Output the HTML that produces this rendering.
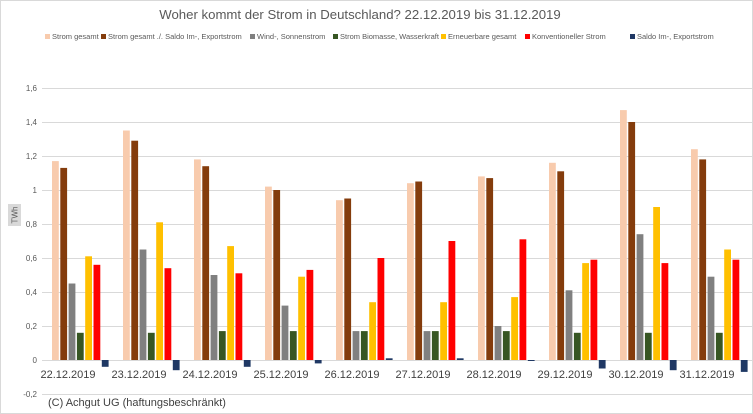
<!DOCTYPE html>
<html><head><meta charset="utf-8"><style>
body{margin:0;background:#fff}
svg{display:block;font-family:"Liberation Sans",sans-serif}
</style></head><body>
<svg id="c" width="753" height="414" viewBox="0 0 753 414">
<rect x="0.5" y="0.5" width="752" height="413" fill="#fff" stroke="#d9d9d9"/>
<text x="360" y="19" font-size="13.2" fill="#595959" text-anchor="middle">Woher kommt der Strom in Deutschland? 22.12.2019 bis 31.12.2019</text>
<g font-size="7.5" fill="#595959">
<rect x="45" y="34" width="5" height="5" fill="#f8cbad"/><text x="52" y="39">Strom gesamt</text>
<rect x="101" y="34" width="5" height="5" fill="#843c0c"/><text x="108" y="39">Strom gesamt ./. Saldo Im-, Exportstrom</text>
<rect x="250" y="34" width="5" height="5" fill="#808080"/><text x="257" y="39">Wind-, Sonnenstrom</text>
<rect x="333" y="34" width="5" height="5" fill="#375623"/><text x="340" y="39">Strom Biomasse, Wasserkraft</text>
<rect x="441" y="34" width="5" height="5" fill="#ffc000"/><text x="448" y="39">Erneuerbare gesamt</text>
<rect x="525" y="34" width="5" height="5" fill="#ff0000"/><text x="532" y="39">Konventioneller Strom</text>
<rect x="630" y="34" width="5" height="5" fill="#1f3864"/><text x="637" y="39">Saldo Im-, Exportstrom</text>
</g>
<g stroke="#d9d9d9" stroke-width="1">
<line x1="42" x2="752" y1="88.5" y2="88.5"/><line x1="42" x2="752" y1="122.5" y2="122.5"/>
<line x1="42" x2="752" y1="156.5" y2="156.5"/><line x1="42" x2="752" y1="190.5" y2="190.5"/>
<line x1="42" x2="752" y1="224.5" y2="224.5"/><line x1="42" x2="752" y1="258.5" y2="258.5"/>
<line x1="42" x2="752" y1="292.5" y2="292.5"/><line x1="42" x2="752" y1="326.5" y2="326.5"/>
<line x1="42" x2="752" y1="360.5" y2="360.5"/><line x1="42" x2="752" y1="394.5" y2="394.5"/>
</g>
<g font-size="8" fill="#595959" text-anchor="end">
<text x="37" y="91">1,6</text><text x="37" y="125">1,4</text><text x="37" y="159">1,2</text>
<text x="37" y="193">1</text><text x="37" y="227">0,8</text><text x="37" y="261">0,6</text>
<text x="37" y="295">0,4</text><text x="37" y="329">0,2</text><text x="37" y="363">0</text>
<text x="37" y="397">-0,2</text>
</g>
<rect x="8" y="204" width="13" height="22" fill="#d9d9d9"/>
<text transform="translate(17.5,215) rotate(-90)" font-size="8" fill="#595959" text-anchor="middle">TWh</text>
<g id="bars"></g>
<g font-size="11" fill="#404040" text-anchor="middle">
<text x="68" y="378">22.12.2019</text><text x="139" y="378">23.12.2019</text>
<text x="210" y="378">24.12.2019</text><text x="281" y="378">25.12.2019</text>
<text x="352" y="378">26.12.2019</text><text x="423" y="378">27.12.2019</text>
<text x="494" y="378">28.12.2019</text><text x="565" y="378">29.12.2019</text>
<text x="636" y="378">30.12.2019</text><text x="707" y="378">31.12.2019</text>
</g>
<text x="48" y="406" font-size="11" fill="#404040">(C) Achgut UG (haftungsbeschränkt)</text>
</svg>
<script>
var d=[[1.17,1.13,0.45,0.16,0.61,0.56,-0.04],[1.35,1.29,0.65,0.16,0.81,0.54,-0.06],[1.18,1.14,0.50,0.17,0.67,0.51,-0.04],[1.02,1.00,0.32,0.17,0.49,0.53,-0.02],[0.94,0.95,0.17,0.17,0.34,0.60,0.01],[1.04,1.05,0.17,0.17,0.34,0.70,0.01],[1.08,1.07,0.20,0.17,0.37,0.71,-0.005],[1.16,1.11,0.41,0.16,0.57,0.59,-0.05],[1.47,1.40,0.74,0.16,0.90,0.57,-0.06],[1.24,1.18,0.49,0.16,0.65,0.59,-0.07]];
var col=["#f8cbad","#843c0c","#808080","#375623","#ffc000","#ff0000","#1f3864"];
var g=document.getElementById("bars"),h="";
d.forEach(function(r,i){r.forEach(function(v,j){var x=52+i*71+j*8.3;var y0=360,y=360-v*170;var top=Math.min(y,y0),hh=Math.max(Math.abs(y-y0),1);
h+='<rect x="'+x.toFixed(1)+'" y="'+top.toFixed(1)+'" width="6.8" height="'+hh.toFixed(1)+'" fill="'+col[j]+'"/>';});});
g.innerHTML=h;
</script>
</body></html>
